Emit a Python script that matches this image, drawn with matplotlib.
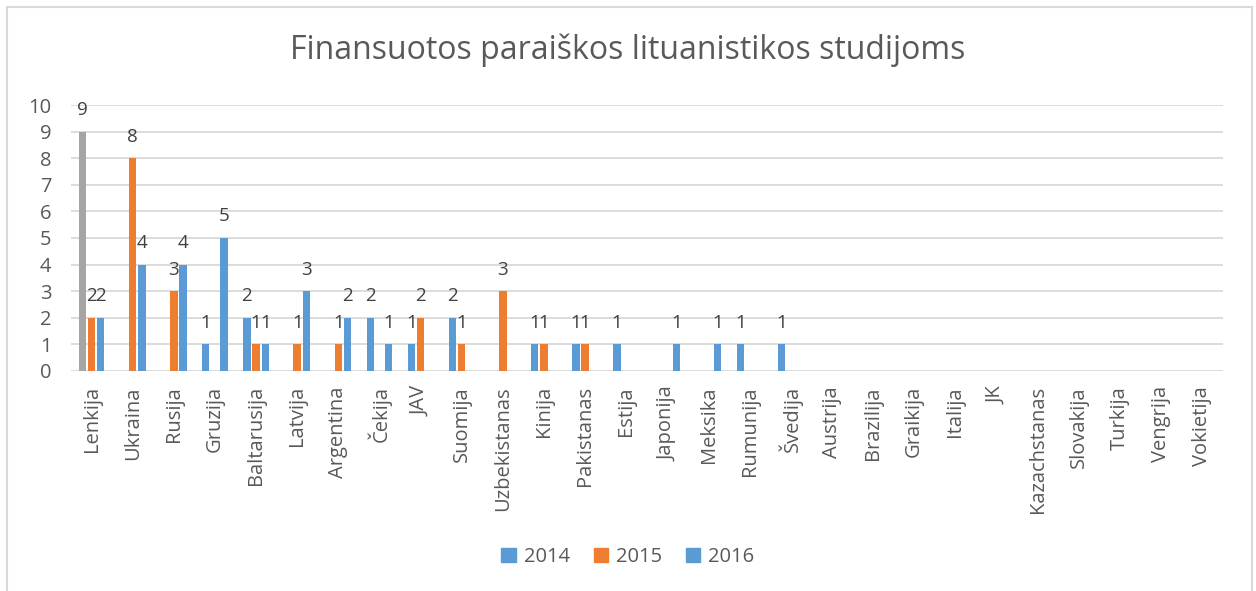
import numpy as np
import matplotlib.pyplot as plt
from matplotlib.patches import Rectangle

plt.rcParams['font.family'] = ['Open Sans', 'DejaVu Sans']

countries = ['Lenkija', 'Ukraina', 'Rusija', 'Gruzija', 'Baltarusija', 'Latvija',
             'Argentina', 'Čekija', 'JAV', 'Suomija', 'Uzbekistanas', 'Kinija',
             'Pakistanas', 'Estija', 'Japonija', 'Meksika', 'Rumunija', 'Švedija',
             'Austrija', 'Brazilija', 'Graikija', 'Italija', 'JK', 'Kazachstanas',
             'Slovakija', 'Turkija', 'Vengrija', 'Vokietija']
years = ['2014', '2015', '2016']
v2014 = [9, 0, 0, 1, 2, 0, 0, 2, 1, 2, 0, 1, 1, 1, 0, 0, 1, 1, 0, 0, 0, 0, 0, 0, 0, 0, 0, 0]
v2015 = [2, 8, 3, 0, 1, 1, 1, 0, 2, 1, 3, 1, 1, 0, 0, 0, 0, 0, 0, 0, 0, 0, 0, 0, 0, 0, 0, 0]
v2016 = [2, 4, 4, 5, 1, 3, 2, 1, 0, 0, 0, 0, 0, 0, 1, 1, 0, 0, 0, 0, 0, 0, 0, 0, 0, 0, 0, 0]

blue = '#5B9BD5'
orange = '#ED7D31'
gray = '#A5A5A5'
txt = '#595959'

fig = plt.figure(figsize=(12.56, 5.91), dpi=100)
ax = fig.add_axes([0.0565, 0.3723, 0.917, 0.45])

x = np.arange(len(countries))
w = 0.18
step = 0.224
colors_2014 = [gray] + [blue] * (len(countries) - 1)
series = [(v2014, -step, colors_2014), (v2015, 0, orange), (v2016, step, blue)]
for vals, off, col in series:
    bars = ax.bar(x + off, vals, width=w, color=col, zorder=3)
    for b, v in zip(bars, vals):
        if v > 0:
            ax.annotate(str(v), (b.get_x() + b.get_width() / 2, v),
                        xytext=(0, 9), textcoords='offset points',
                        ha='center', va='bottom', fontsize=13.5, color='#404040')

ax.set_xlim(-0.5, len(countries) - 0.5)
ax.set_ylim(0, 10)
ax.set_yticks(range(0, 11))
ax.set_xticks(x)
ax.set_xticklabels(countries, rotation=90, fontsize=14.5, color=txt)
ax.tick_params(axis='y', labelsize=14.5, labelcolor=txt, length=0, pad=14)
ax.tick_params(axis='x', length=0, pad=11)
ax.grid(axis='y', color='#D9D9D9', linewidth=1.3, zorder=0)
for s in ax.spines.values():
    s.set_visible(False)

fig.text(0.5, 0.915, 'Finansuotos paraiškos lituanistikos studijoms',
         ha='center', va='center', fontsize=23, color=txt)

handles = [plt.Rectangle((0, 0), 1, 1, color=c) for c in (blue, orange, blue)]
fig.legend(handles, years, loc='center', bbox_to_anchor=(0.5, 0.058), ncol=3,
           frameon=False, fontsize=14.5, labelcolor=txt, handlelength=0.7,
           handleheight=0.7, columnspacing=1.2, handletextpad=0.4)

fig.patches.append(Rectangle((7 / 1256, -0.05), 1245 / 1256, 1 - 7 / 591 + 0.05,
                             transform=fig.transFigure, fill=False,
                             edgecolor='#D9D9D9', linewidth=1.5))

plt.savefig('out.png', dpi=100)
